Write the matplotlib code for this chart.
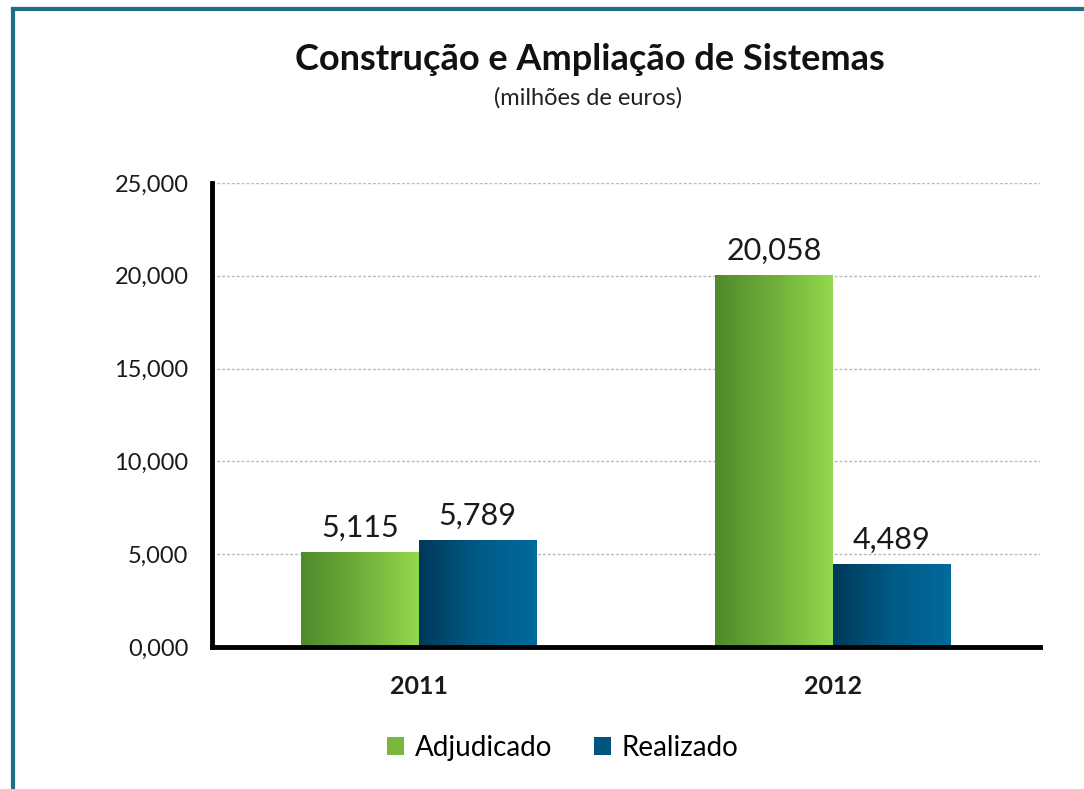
import matplotlib
matplotlib.use("Agg")
import matplotlib.pyplot as plt
import numpy as np
from matplotlib.colors import LinearSegmentedColormap
from matplotlib.patches import Rectangle
from matplotlib.lines import Line2D

categories = ["2011", "2012"]
series_names = ["Adjudicado", "Realizado"]
adjudicado = [5.115, 20.058]
realizado = [5.789, 4.489]
yticks = [0, 5, 10, 15, 20, 25]

def fmt(v):
    return f"{v:.3f}".replace(".", ",")

plt.rcParams['font.family'] = ['Lato', 'DejaVu Sans']

fig = plt.figure(figsize=(10.84, 7.89), dpi=100)
fig.patch.set_facecolor("white")

# teal frame on top & left
fig.add_artist(Line2D([13/1084, 1.0], [1-9/789, 1-9/789], color="#1d6f86", lw=3, transform=fig.transFigure))
fig.add_artist(Line2D([13/1084, 13/1084], [0, 1-9/789], color="#1d6f86", lw=3, transform=fig.transFigure))

ax = fig.add_axes([212/1084, 1-647/789, 828/1084, (647-183)/789])

green = LinearSegmentedColormap.from_list("g", ["#4f8a2b", "#6fae3a", "#93d94c"])
blue = LinearSegmentedColormap.from_list("b", ["#00395a", "#005a85", "#006b9c"])

w = 0.284
x = np.arange(len(categories))
grad = np.linspace(0, 1, 256).reshape(1, -1)

def gbar(xs, vals, cmap, offset):
    bars = ax.bar(xs + offset, vals, width=w, align="edge", color="none", zorder=3)
    for b in bars:
        im = ax.imshow(grad, cmap=cmap, aspect="auto",
                       extent=(b.get_x(), b.get_x() + b.get_width(), 0, b.get_height()),
                       zorder=3, interpolation="bilinear")
        im.set_clip_path(b)
    return bars

b1 = gbar(x, adjudicado, green, -w)
b2 = gbar(x, realizado, blue, 0)
ax.set_xlim(-0.5, 1.5)
ax.set_ylim(0, 25)

for bars, vals in ((b1, adjudicado), (b2, realizado)):
    for b, v in zip(bars, vals):
        ax.text(b.get_x() + b.get_width()/2, v + 0.55, fmt(v), ha="center", va="bottom",
                fontsize=22, color="#1a1a1a", zorder=4)

ax.set_yticks(yticks)
ax.set_yticklabels([fmt(t) for t in yticks], fontsize=17)
ax.set_xticks(x)
ax.set_xticklabels(categories, fontsize=18, fontweight="bold")
ax.tick_params(axis="y", length=0, pad=17, colors="#1a1a1a")
ax.tick_params(axis="x", length=0, pad=20, colors="#1a1a1a")
ax.yaxis.grid(True, color="#b8b8b8", linestyle=(0, (2, 1.5)), linewidth=1, zorder=0)
ax.set_axisbelow(True)
for s in ("top", "right"):
    ax.spines[s].set_visible(False)
ax.spines["left"].set_linewidth(3.5)
ax.spines["bottom"].set_linewidth(3.5)
ax.spines["left"].set_zorder(5)
ax.spines["bottom"].set_zorder(5)

fig.text(590/1084, 1-60/789, "Construção e Ampliação de Sistemas", ha="center", va="center",
         fontsize=26, fontweight="bold", color="#111111")
fig.text(588/1084, 1-98/789, "(milhões de euros)", ha="center", va="center",
         fontsize=17, color="#222222")

handles = [Rectangle((0, 0), 1, 1, facecolor="#78b83f"), Rectangle((0, 0), 1, 1, facecolor="#005580")]
fig.legend(handles, series_names, loc="center", bbox_to_anchor=(563/1084, 1-748/789), ncol=2,
           frameon=False, fontsize=20, handlelength=0.6, handleheight=0.6, handletextpad=0.4,
           columnspacing=1.5)

fig.savefig("out.png", dpi=100)
